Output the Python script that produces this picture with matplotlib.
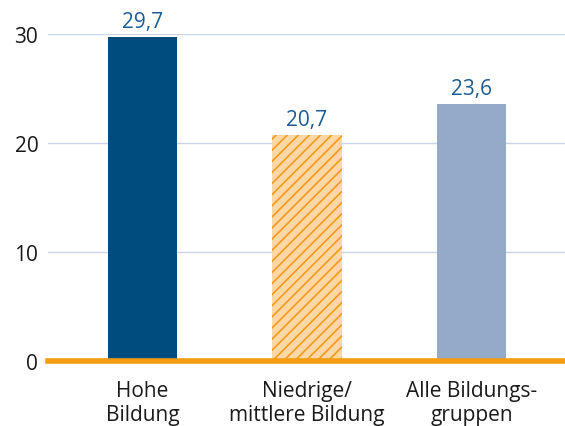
import matplotlib.pyplot as plt
import matplotlib as mpl

categories = ["Hohe\nBildung", "Niedrige/\nmittlere Bildung", "Alle Bildungs-\ngruppen"]
values = [29.7, 20.7, 23.6]
yticks = [0, 10, 20, 30]

plt.rcParams['font.family'] = ['Open Sans', 'DejaVu Sans']
mpl.rcParams['hatch.linewidth'] = 1.2
mpl.rcParams['hatch.color'] = '#f29a1d'

fig = plt.figure(figsize=(5.65, 4.27), dpi=100)
ax = fig.add_axes([48 / 565, 1 - 362 / 427, 517 / 565, 327 / 427])

x = range(len(values))
bars = ax.bar(x, values, width=0.42, zorder=3,
              color=['#004c7f', '#fdd7a6', '#93abc9'], linewidth=0)
bars[1].set_hatch('///')

for xi, v in zip(x, values):
    ax.text(xi, v + 0.45, f"{v:.1f}".replace('.', ','), ha='center', va='bottom',
            fontsize=15, color='#1d5c92', clip_on=False)

ax.set_xlim(-0.574, 2.568)
ax.set_ylim(0, 30)
ax.set_yticks(yticks)
ax.set_xticks(list(x))
ax.set_xticklabels(categories, fontsize=15, color='#1a1a1a', linespacing=1.15)
ax.tick_params(axis='y', length=0, labelsize=15, labelcolor='#1a1a1a', pad=7)
ax.tick_params(axis='x', length=0, pad=14)
ax.grid(axis='y', color='#c9d5e7', linewidth=1, zorder=0)
for s in ['top', 'right', 'left']:
    ax.spines[s].set_visible(False)
ax.spines['bottom'].set_color('#f39c12')
ax.spines['bottom'].set_linewidth(4)
ax.spines['bottom'].set_zorder(4)

fig.savefig('out.png', dpi=100)
